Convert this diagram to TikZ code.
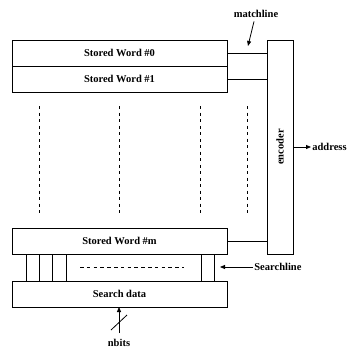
\documentclass[tikz,border=0pt]{standalone}
\usepackage{fontspec}
\setmainfont{Liberation Serif}
\usetikzlibrary{positioning}
\usetikzlibrary{arrows.meta}

\tikzset{
    >={Triangle[length=5pt,width=4pt]},
    word/.style={draw, minimum width=215pt, minimum height=26pt, inner sep=0pt, outer sep=0pt},
    dots/.style={dash pattern=on 3pt off 3.5pt},
}

\begin{document}
\begin{tikzpicture}[x=1pt,y=-1pt,line width=0.8pt,font=\fontsize{10.5}{12}\selectfont\bfseries]
\useasboundingbox (0,0) rectangle (347,349);

    % Stored words:
    \node [word, anchor=north west] (w0) at (12,40) {Stored Word \#0};
    \node [word, below=0pt of w0] (w1) {Stored Word \#1};
    \node [word, anchor=north west] (wm) at (12,228) {Stored Word \#m};
    \node [word, anchor=north west] (sd) at (12,281) {Search data};

    % Encoder:
    \node [draw, anchor=north west, minimum width=26pt, minimum height=214pt, inner sep=0pt, outer sep=0pt] (enc) at (267,40) {};
    \node [rotate=90] (enctext) at (enc.center) {encoder};

    % Matchlines to the encoder:
    \draw (w0.east) -- (w0.east -| enc.west);
    \draw (w1.east) -- (w1.east -| enc.west);
    \draw (wm.east) -- (wm.east -| enc.west);

    % Matchline label:
    \node (ml) at (256,14) {matchline};
    \coordinate (mltip) at (248,46);
    \draw [->] ([xshift=-2pt]ml.south) -- (mltip);

    % Address output:
    \node [anchor=west, inner sep=1pt] (addr) at (311,147) {address};
    \draw [->] (enc.east) -- (addr.west);

    % Dotted columns between the words:
    \foreach \x in {39,119,200,247}
        \draw [dots] (\x,106) -- (\x,214);

    % Searchlines:
    \foreach \dx in {14,27,40,54,189,202}
        \draw ([xshift=\dx pt]wm.south west) -- ([xshift=\dx pt]sd.north west);
    \draw [dash pattern=on 3.5pt off 3.3pt] (80,267) -- (184,267);

    \node [anchor=west, inner sep=1pt] (sl) at (253,267) {Searchline};
    \coordinate (sltip) at (220,267);
    \draw [->] (sl.west) -- (sltip);

    % nbits input:
    \node (nb) at (119,343) {nbits};
    \coordinate (nbtail) at (119,333);
    \draw [->] (nbtail) -- (sd.south -| nbtail);
    \draw (111,330) -- (127,315);
\end{tikzpicture}
\end{document}
